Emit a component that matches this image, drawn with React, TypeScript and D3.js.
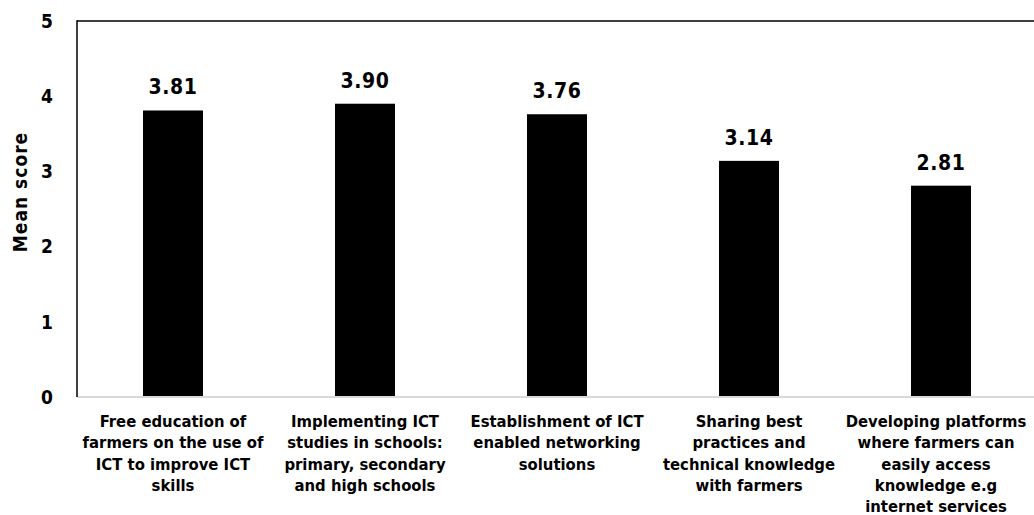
import React from "react";
import * as d3 from "d3";

const categories: string[][] = [
  ["Free education of", "farmers on the use of", "ICT to improve ICT", "skills"],
  ["Implementing ICT", "studies in schools:", "primary, secondary", "and high schools"],
  ["Establishment of ICT", "enabled networking", "solutions"],
  ["Sharing best", "practices and", "technical knowledge", "with farmers"],
  ["Developing platforms", "where farmers can", "easily access", "knowledge e.g", "internet services"],
];
const values: number[] = [3.81, 3.9, 3.76, 3.14, 2.81];
const yTicks: number[] = [0, 1, 2, 3, 4, 5];
const yTitle = "Mean score";

const W = 1034;
const H = 515;
const M = { left: 77, right: -3, top: 21, bottom: 118 };
const FONT = "'DejaVu Sans Condensed', 'DejaVu Sans', sans-serif";

export default function App() {
  const x = d3
    .scaleBand<number>()
    .domain(values.map((_, i) => i))
    .range([M.left, W - M.right])
    .paddingInner(0.6875)
    .paddingOuter(0.34375);
  const y = d3.scaleLinear().domain([0, 5]).range([H - M.bottom, M.top]);
  const y0 = y(0);
  const labelX = (i: number) =>
    Math.min((x(i) as number) + x.bandwidth() / 2, W - 98);

  return (
    <svg
      width={W}
      height={H}
      style={{ position: "absolute", left: 0, top: 0, background: "#fff" }}
      fontFamily={FONT}
      fontWeight="bold"
    >
      <rect x={0} y={0} width={W} height={H} fill="#fff" />
      {/* top border */}
      <line x1={M.left} x2={W} y1={y(5)} y2={y(5)} stroke="#000" strokeWidth={1.5} />
      {/* bars */}
      {values.map((v, i) => (
        <rect
          key={i}
          x={x(i)}
          y={y(v)}
          width={x.bandwidth()}
          height={y0 - y(v)}
          fill="#000"
        />
      ))}
      {/* baseline */}
      <line x1={M.left} x2={W} y1={y0} y2={y0} stroke="#d9d9d9" strokeWidth={2} />
      {/* left axis */}
      <line x1={M.left} x2={M.left} y1={y(5) - 0.75} y2={y0} stroke="#000" strokeWidth={1.5} />
      {/* y ticks */}
      {yTicks.map((t) => (
        <text
          key={t}
          x={53}
          y={y(t)}
          dy="0.36em"
          textAnchor="end"
          fontSize={19}
          fill="#000"
        >
          {t}
        </text>
      ))}
      {/* y title */}
      <text
        transform={`translate(20,${192}) rotate(-90)`}
        textAnchor="middle"
        dy="0.36em"
        fontSize={19}
        letterSpacing={1}
        fill="#000"
      >
        {yTitle}
      </text>
      {/* value labels */}
      {values.map((v, i) => (
        <text
          key={i}
          x={(x(i) as number) + x.bandwidth() / 2}
          y={y(v) - 16}
          textAnchor="middle"
          fontSize={21}
          letterSpacing={0.6}
          fill="#000"
        >
          {v.toFixed(2)}
        </text>
      ))}
      {/* category labels */}
      {categories.map((lines, i) => (
        <text
          key={i}
          x={labelX(i)}
          y={y0 + 30}
          textAnchor="middle"
          fontSize={16.5}
          fill="#000"
        >
          {lines.map((l, j) => (
            <tspan key={j} x={labelX(i)} dy={j === 0 ? 0 : 21.3}>
              {l}
            </tspan>
          ))}
        </text>
      ))}
    </svg>
  );
}
